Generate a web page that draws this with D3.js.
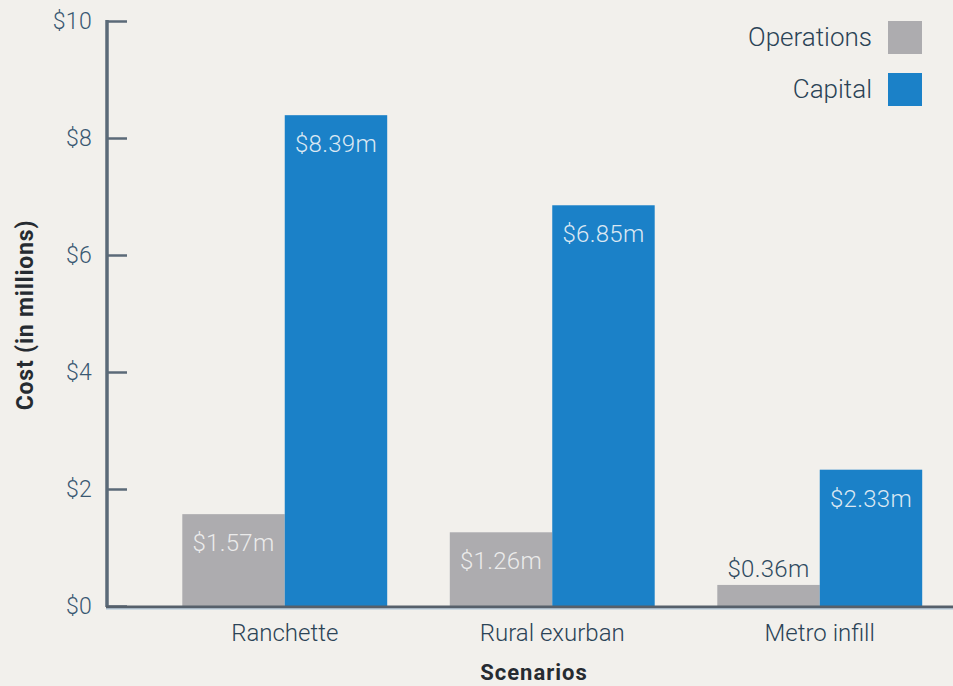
<!DOCTYPE html>
<meta charset="utf-8">
<script src="https://d3js.org/d3.v7.min.js"></script>
<style>
  body { margin: 0; background: #f2f0ec; }
  text { font-family: Roboto, "Liberation Sans", sans-serif; }
</style>
<div id="chart"></div>
<script>
  // data
  const scenarios = ["Ranchette", "Rural exurban", "Metro infill"];
  const series = ["Operations", "Capital"];
  const operations = [1.57, 1.26, 0.36];
  const capital = [8.39, 6.85, 2.33];
  const yTicks = [0, 2, 4, 6, 8, 10];

  const W = 953, H = 686;
  const color = d3.scaleOrdinal().domain(series).range(["#adacaf", "#1b81c8"]);

  const svg = d3.select("#chart").append("svg")
    .attr("width", W).attr("height", H)
    .style("background", "#f2f0ec");

  const rows = scenarios.map((s, i) => ({ name: s, Operations: operations[i], Capital: capital[i] }));

  const x0 = d3.scaleBand().domain(scenarios).range([151, 953.5])
    .paddingInner(0.234).paddingOuter(0.117);
  const x1 = d3.scaleBand().domain(series).range([0, x0.bandwidth()]);
  const y = d3.scaleLinear().domain([0, 10]).range([606, 21]);

  // bars
  const groups = svg.selectAll("g.grp").data(rows).join("g")
    .attr("class", "grp")
    .attr("transform", d => `translate(${x0(d.name)},0)`);

  groups.selectAll("rect")
    .data(d => series.map(k => ({ key: k, value: d[k] })))
    .join("rect")
      .attr("x", d => x1(d.key))
      .attr("y", d => y(d.value))
      .attr("width", x1.bandwidth())
      .attr("height", d => y(0) - y(d.value))
      .attr("fill", d => color(d.key));

  // value labels
  const inside = d => y(0) - y(d.value) > 45;
  groups.selectAll("text.val")
    .data(d => series.map(k => ({ key: k, value: d[k] })))
    .join("text")
      .attr("class", "val")
      .attr("x", d => x1(d.key) + x1.bandwidth() / 2)
      .attr("y", d => inside(d) ? y(d.value) + 37 : y(d.value) - 8)
      .attr("text-anchor", "middle")
      .attr("font-size", 24)
      .attr("font-weight", 300)
      .attr("letter-spacing", 0.3)
      .attr("fill", d => inside(d) ? (d.key === "Capital" ? "#dbe8f3" : "#ebebeb") : "#2f4a60")
      .text(d => "$" + d.value.toFixed(2) + "m");

  // y axis
  const yAxis = svg.append("g")
    .attr("transform", "translate(107,0)")
    .call(d3.axisRight(y).tickValues(yTicks).tickSize(20).tickFormat(""));
  yAxis.select(".domain").remove();
  yAxis.selectAll(".tick line").attr("stroke", "#5b6a78").attr("stroke-width", 2.5);

  svg.append("line")
    .attr("x1", 107).attr("x2", 107).attr("y1", y(10) - 1).attr("y2", y(0) + 1)
    .attr("stroke", "#5b6a78").attr("stroke-width", 3.5);

  svg.selectAll("text.ytick").data(yTicks).join("text")
    .attr("class", "ytick")
    .attr("x", 92).attr("y", d => y(d) + 8)
    .attr("text-anchor", "end")
    .attr("font-size", 23)
    .attr("font-weight", 300)
    .attr("letter-spacing", 0.3)
    .attr("fill", "#3a5872")
    .text(d => "$" + d);

  // x axis
  svg.append("line")
    .attr("x1", 106).attr("x2", W).attr("y1", y(0) + 1).attr("y2", y(0) + 1)
    .attr("stroke", "#56606b").attr("stroke-width", 3);
  svg.append("line")
    .attr("x1", 106).attr("x2", W).attr("y1", y(0) + 3).attr("y2", y(0) + 3)
    .attr("stroke", "#a9c3d8").attr("stroke-width", 1);

  svg.selectAll("text.xlab").data(scenarios).join("text")
    .attr("class", "xlab")
    .attr("x", d => x0(d) + x0.bandwidth() / 2)
    .attr("y", 641)
    .attr("text-anchor", "middle")
    .attr("font-size", 24)
    .attr("font-weight", 300)
    .attr("fill", "#2b4356")
    .text(d => d);

  // axis titles
  svg.append("text")
    .attr("x", 534).attr("y", 680)
    .attr("text-anchor", "middle")
    .attr("font-size", 22).attr("font-weight", 700)
    .attr("letter-spacing", 1)
    .attr("fill", "#262b31")
    .text("Scenarios");

  svg.append("text")
    .attr("transform", "translate(33,315) rotate(-90)")
    .attr("text-anchor", "middle")
    .attr("font-size", 23).attr("font-weight", 700)
    .attr("letter-spacing", 0.8)
    .attr("fill", "#262b31")
    .text("Cost (in millions)");

  // legend
  const legend = svg.selectAll("g.leg").data(series).join("g")
    .attr("class", "leg")
    .attr("transform", (d, i) => `translate(0,${21 + i * 52})`);
  legend.append("rect")
    .attr("x", 888).attr("y", 0).attr("width", 34).attr("height", 33)
    .attr("fill", d => color(d));
  legend.append("text")
    .attr("x", 872).attr("y", 25)
    .attr("text-anchor", "end")
    .attr("font-size", 26).attr("font-weight", 300)
    .attr("fill", "#2b4356")
    .text(d => d);
</script>
